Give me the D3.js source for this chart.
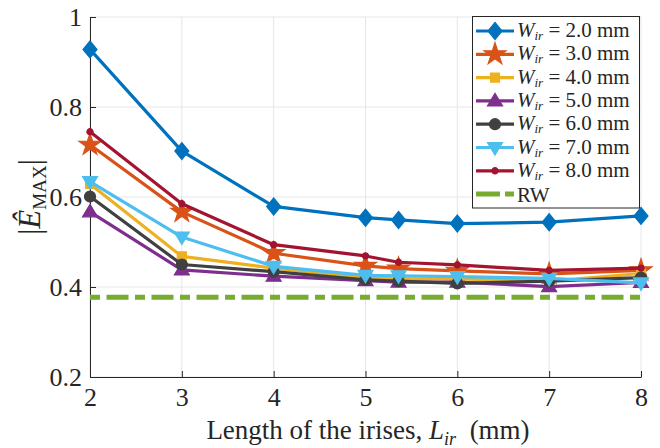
<!DOCTYPE html>
<html>
<head>
<meta charset="utf-8">
<script src="https://cdn.jsdelivr.net/npm/d3@7"></script>
<style>
  html, body { margin: 0; padding: 0; background: #fff; }
  svg { display: block; }
  svg text { font-family: "Liberation Serif", "Times New Roman", Times, "DejaVu Serif", serif; fill: #262626; }
</style>
</head>
<body>
<svg id="chart" width="660" height="448"></svg>
<script>
// Iris lengths (mm)
const lengths = [2, 3, 4, 5, 5.36, 6, 7, 8];

// Normalised peak field |E_MAX| for each iris width
const w20 = [0.928, 0.702, 0.579, 0.554, 0.549, 0.541, 0.544, 0.558];
const w30 = [0.716, 0.567, 0.475, 0.447, 0.441, 0.436, 0.429, 0.437];
const w40 = [0.629, 0.468, 0.442, 0.421, 0.418, 0.418, 0.413, 0.430];
const w50 = [0.567, 0.438, 0.424, 0.414, 0.411, 0.411, 0.401, 0.410];
const w60 = [0.601, 0.450, 0.434, 0.416, 0.413, 0.408, 0.413, 0.421];
const w70 = [0.634, 0.511, 0.446, 0.426, 0.425, 0.423, 0.419, 0.409];
const w80 = [0.745, 0.585, 0.494, 0.469, 0.455, 0.449, 0.437, 0.442];
const rwLevel = 0.377;

const widthLabels = ["2.0", "3.0", "4.0", "5.0", "6.0", "7.0", "8.0"];
const xTicks = [2, 3, 4, 5, 6, 7, 8];
const yTicks = [0.2, 0.4, 0.6, 0.8, 1];

const seriesValues = [w20, w30, w40, w50, w60, w70, w80];
const colors = ["#0072BD", "#D95319", "#EDB120", "#7E2F8E", "#404040", "#4DBEEE", "#A2142F"];
const markers = ["diamond", "star", "square", "triUp", "circle", "triDown", "dot"];
const rwColor = "#77AC30";
const SERIF = "'Liberation Serif', 'Times New Roman', Times, 'DejaVu Serif', serif";

const svg = d3.select("#chart");
const m = { left: 90, right: 19, top: 17, bottom: 71 };
const W = 660, H = 448;

const x = d3.scaleLinear().domain([2, 8]).range([m.left, W - m.right]);
const y = d3.scaleLinear().domain([0.2, 1]).range([H - m.bottom, m.top]);

// grid
const grid = svg.append("g");
grid.selectAll("line.gx").data(xTicks).join("line")
  .attr("x1", d => x(d)).attr("x2", d => x(d))
  .attr("y1", y(0.2)).attr("y2", y(1))
  .attr("stroke", "#e6e6e6").attr("stroke-width", 1);
grid.selectAll("line.gy").data(yTicks).join("line")
  .attr("x1", x(2)).attr("x2", x(8))
  .attr("y1", d => y(d)).attr("y2", d => y(d))
  .attr("stroke", "#e6e6e6").attr("stroke-width", 1);

// axes
const xAxis = svg.append("g").attr("transform", `translate(0,${y(0.2)})`)
  .call(d3.axisBottom(x).tickValues(xTicks).tickSizeInner(-6).tickSizeOuter(0).tickPadding(10).tickFormat(d3.format("d")));
const yAxis = svg.append("g").attr("transform", `translate(${x(2)},0)`)
  .call(d3.axisLeft(y).tickValues(yTicks).tickSizeInner(-6).tickSizeOuter(0).tickPadding(10).tickFormat(d => d === 1 ? "1" : d3.format(".1f")(d)));
[xAxis, yAxis].forEach(a => {
  a.attr("font-family", null);
  a.select(".domain").attr("stroke", "#262626").attr("stroke-width", 1);
  a.selectAll(".tick line").attr("stroke", "#262626");
  a.selectAll(".tick text").attr("font-size", 26).attr("fill", "#262626")
    .style("font-family", SERIF);
});
xAxis.selectAll(".tick text").attr("dy", "0.72em");
yAxis.selectAll(".tick text").attr("dx", "2");

// marker shapes
function markerPath(type) {
  switch (type) {
    case "diamond": return "M0,-8.5L7,0L0,8.5L-7,0Z";
    case "star": return d3.symbol(d3.symbolStar, 150)();
    case "square": return "M-4.5,-4.5H4.5V4.5H-4.5Z";
    case "triUp": return "M0,-7.5L7.5,5L-7.5,5Z";
    case "circle": return d3.symbol(d3.symbolCircle, 95)();
    case "triDown": return "M0,7.5L7.5,-5L-7.5,-5Z";
    case "dot": return d3.symbol(d3.symbolCircle, 30)();
  }
}

// RW reference line
svg.append("line")
  .attr("x1", x(2)).attr("x2", x(8))
  .attr("y1", y(rwLevel)).attr("y2", y(rwLevel))
  .attr("stroke", rwColor).attr("stroke-width", 5)
  .attr("stroke-dasharray", "10,6.5,22,6.5");

const line = d3.line().x((d, i) => x(lengths[i])).y(d => y(d));

seriesValues.forEach((vals, s) => {
  const g = svg.append("g");
  g.append("path").datum(vals).attr("d", line)
    .attr("fill", "none").attr("stroke", colors[s]).attr("stroke-width", 3.2)
    .attr("stroke-linejoin", "round");
  g.selectAll("path.mk").data(vals).join("path").attr("class", "mk")
    .attr("d", markerPath(markers[s]))
    .attr("transform", (d, i) => `translate(${x(lengths[i])},${y(d)})`)
    .attr("fill", colors[s]).attr("stroke", colors[s]).attr("stroke-width", 1.2);
});

// legend
const lg = svg.append("g");
lg.append("rect").attr("x", 472.5).attr("y", 16.5).attr("width", 167).attr("height", 191.5)
  .attr("fill", "#fff").attr("stroke", "#262626").attr("stroke-width", 1);
const rowY = i => 31 + i * 23.3;
widthLabels.forEach((lab, i) => {
  const yy = rowY(i);
  lg.append("line").attr("x1", 476).attr("x2", 514).attr("y1", yy).attr("y2", yy)
    .attr("stroke", colors[i]).attr("stroke-width", 3.2);
  lg.append("path").attr("d", markerPath(markers[i]))
    .attr("transform", `translate(495,${yy})`)
    .attr("fill", colors[i]).attr("stroke", colors[i]).attr("stroke-width", 1.2);
  const t = lg.append("text").attr("x", 517).attr("y", yy + 6).attr("font-size", 21);
  t.append("tspan").attr("font-style", "italic").text("W");
  t.append("tspan").attr("font-style", "italic").attr("font-size", 13).attr("dy", 3).text("ir");
  t.append("tspan").attr("dy", -3).text(" = " + lab + " mm");
});
{
  const yy = rowY(7);
  lg.append("line").attr("x1", 476).attr("x2", 514).attr("y1", yy).attr("y2", yy)
    .attr("stroke", rwColor).attr("stroke-width", 5).attr("stroke-dasharray", "24,5,9,100");
  lg.append("text").attr("x", 517).attr("y", yy + 8).attr("font-size", 21).text("RW");
}

// x label
const xl = svg.append("text").attr("x", 368).attr("y", 439).attr("text-anchor", "middle").attr("font-size", 27);
xl.append("tspan").text("Length of the irises, ");
xl.append("tspan").attr("font-style", "italic").text("L");
xl.append("tspan").attr("font-style", "italic").attr("font-size", 18).attr("dy", 6).text("ir");
xl.append("tspan").attr("dy", -6).text("\u2002(mm)");

// y label
const yl = svg.append("text").attr("transform", `translate(40,${y(0.6)}) rotate(-90)`)
  .attr("text-anchor", "middle").attr("font-size", 31);
yl.append("tspan").text("|");
yl.append("tspan").attr("font-style", "italic").text("Ê");
yl.append("tspan").attr("font-size", 19).attr("dy", 6).text("MAX");
yl.append("tspan").attr("dy", -6).text("|");
</script>
</body>
</html>
